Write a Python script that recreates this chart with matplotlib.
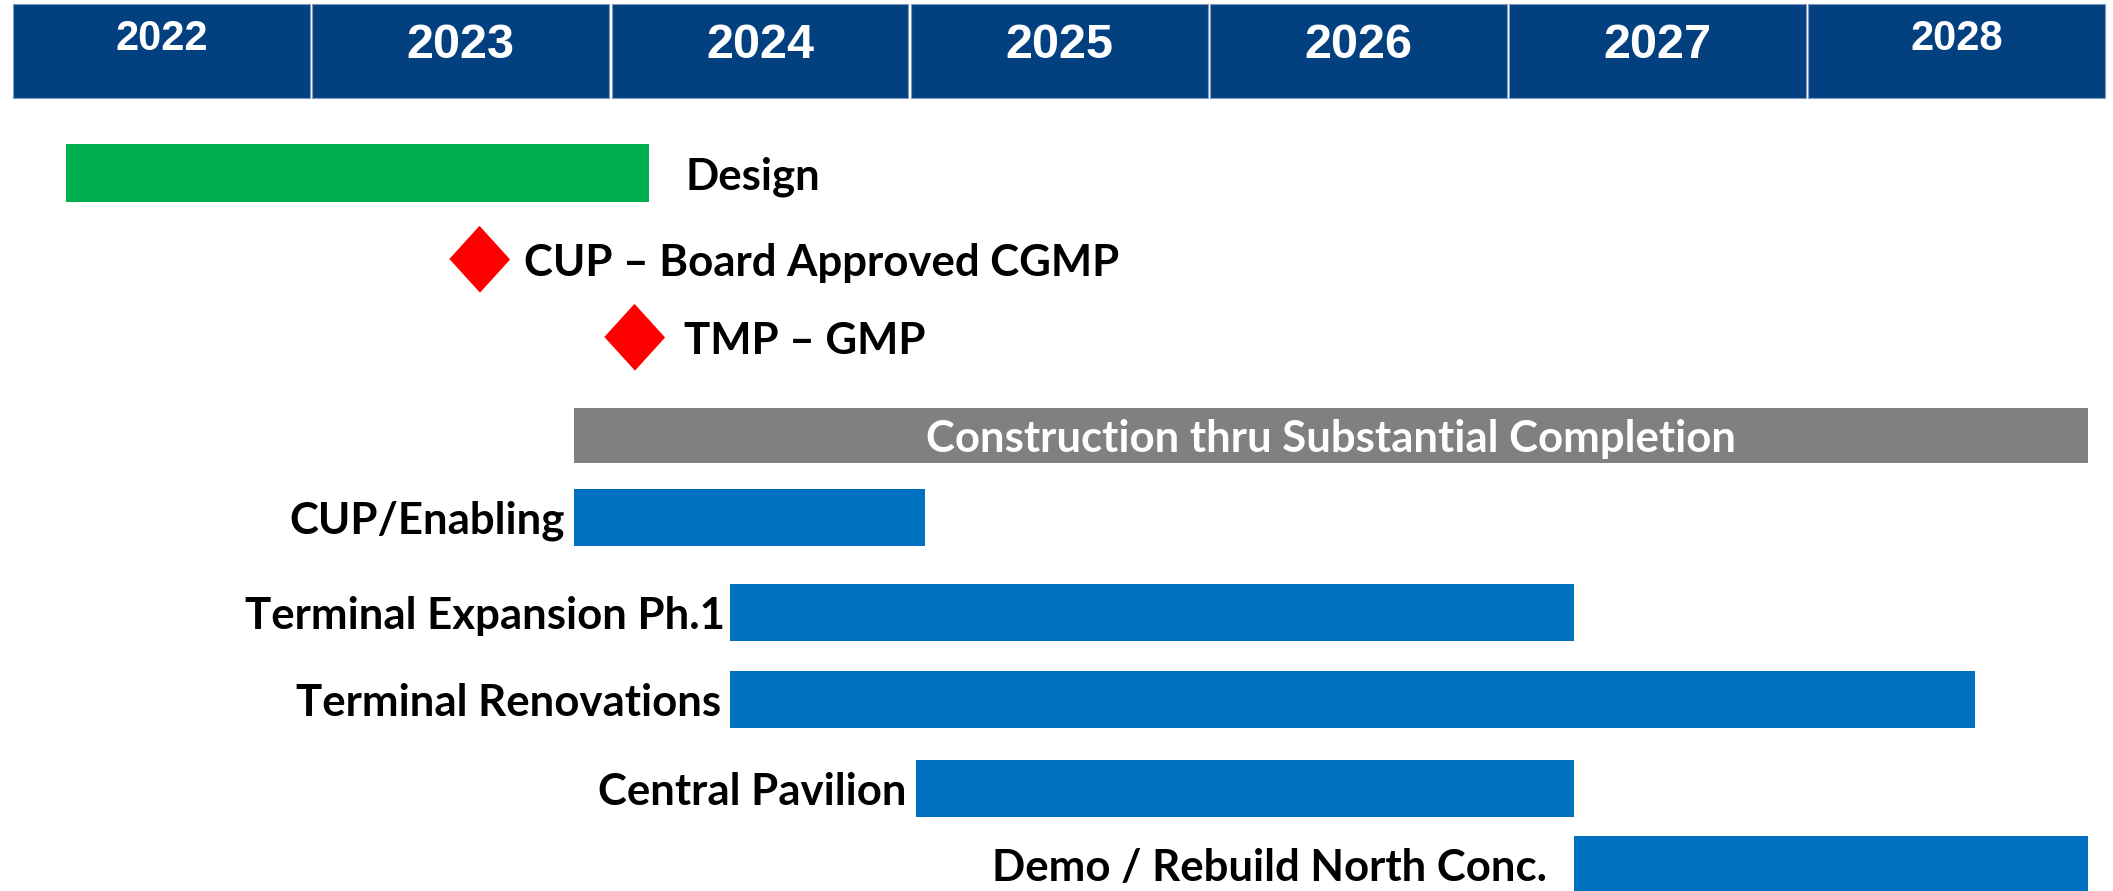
import matplotlib.pyplot as plt
from matplotlib.patches import Rectangle

# ── Data (dates as decimal years) ─────────────────────────────────
YEARS = [2022, 2023, 2024, 2025, 2026, 2027, 2028]

DESIGN_START = 2022.18
DESIGN_END = 2024.13

MILESTONES = ["CUP \u2013 Board Approved CGMP", "TMP \u2013 GMP"]
MILESTONE_DATES = [2023.56, 2024.08]

CONSTRUCTION_LABEL = "Construction thru Substantial Completion"
CONSTRUCTION_START = 2023.88
CONSTRUCTION_END = 2028.94

TASKS = [
    "CUP/Enabling",
    "Terminal Expansion Ph.1",
    "Terminal Renovations",
    "Central Pavilion",
    "Demo / Rebuild North Conc.",
]
TASK_STARTS = [2023.88, 2024.40, 2024.40, 2025.02, 2027.22]
TASK_ENDS = [2025.05, 2027.22, 2028.56, 2027.22, 2028.94]

# ── Style ─────────────────────────────────────────────────────────
NAVY = "#02407F"
GREEN = "#00B050"
GRAY = "#808080"
BLUE = "#0070C0"
RED = "#FF0000"
LABEL_FONT = ["Lato", "DejaVu Sans"]
YEAR_FONT = ["Liberation Sans Narrow", "Liberation Sans", "DejaVu Sans"]
FS = 31.5
DY = -4  # nudge labels down a little (pixels)

W, H = 2113, 891
X0 = 12          # pixel where 2022 starts
YEAR_PX = 299.2  # pixels per year

fig = plt.figure(figsize=(W / 100, H / 100), dpi=100)
ax = fig.add_axes([0, 0, 1, 1])
ax.set_xlim(YEARS[0] - X0 / YEAR_PX, YEARS[0] + (W - X0) / YEAR_PX)
ax.set_ylim(H, 0)
ax.set_axis_off()

# header
for yr in YEARS:
    ax.add_patch(Rectangle((yr + 0.004, 4), 1 - 0.008, 94, facecolor=NAVY,
                           edgecolor="#7F9CC0", linewidth=0.8))
    small = yr in (YEARS[0], YEARS[-1])
    ax.text(yr + 0.5, 39 if small else 45, str(yr), ha="center", va="center",
            color="white", fontsize=30 if small else 35, fontweight="bold",
            family=YEAR_FONT)

# design bar
ax.barh(173, DESIGN_END - DESIGN_START, left=DESIGN_START, height=58, color=GREEN)
ax.annotate("Design", (DESIGN_END, 173), xytext=(36, DY), textcoords="offset pixels",
            ha="left", va="center", fontsize=FS, fontweight="bold", family=LABEL_FONT)

# milestones
for name, d, y, off in zip(MILESTONES, MILESTONE_DATES, [259, 337], [45, 50]):
    ax.plot(d, y, marker=[(0, -1.1), (1, 0), (0, 1.1), (-1, 0)], markersize=47,
            color=RED, linestyle="none")
    ax.annotate(name, (d, y), xytext=(off, DY), textcoords="offset pixels",
                ha="left", va="center", fontsize=FS, fontweight="bold",
                family=LABEL_FONT)

# construction bar
ax.barh(435, CONSTRUCTION_END - CONSTRUCTION_START, left=CONSTRUCTION_START,
        height=55, color=GRAY)
ax.annotate(CONSTRUCTION_LABEL, ((CONSTRUCTION_START + CONSTRUCTION_END) / 2, 435),
            xytext=(0, DY), textcoords="offset pixels", ha="center", va="center",
            color="white", fontsize=FS, fontweight="bold", family=LABEL_FONT)

# task bars
TASK_Y = [517, 612, 699, 788, 864]
LABEL_GAP = [10, 5, 9, 9, 27]
for name, s, e, y, gap in zip(TASKS, TASK_STARTS, TASK_ENDS, TASK_Y, LABEL_GAP):
    ax.barh(y, e - s, left=s, height=57, color=BLUE)
    ax.annotate(name, (s, y), xytext=(-gap, DY), textcoords="offset pixels",
                ha="right", va="center", fontsize=FS, fontweight="bold",
                family=LABEL_FONT)

fig.savefig("out.png", dpi=100)
